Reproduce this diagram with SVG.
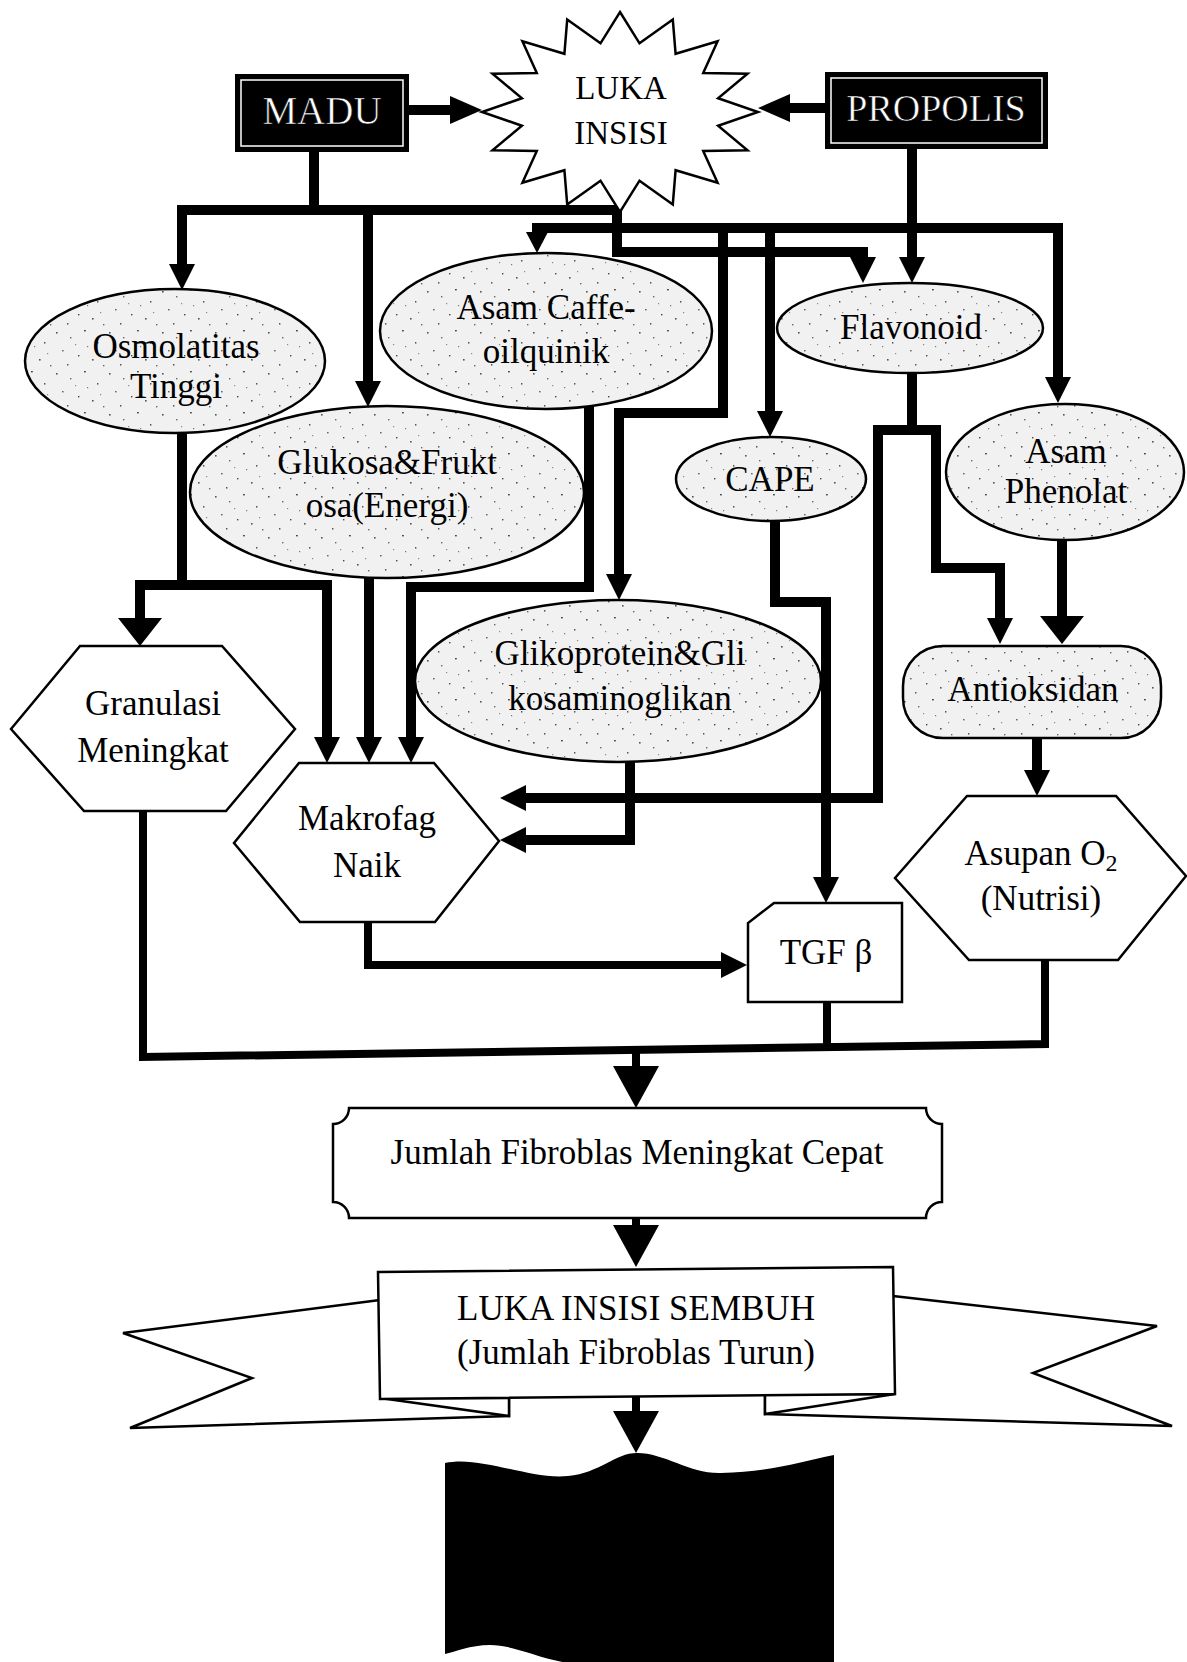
<svg xmlns="http://www.w3.org/2000/svg" width="1187" height="1662" viewBox="0 0 1187 1662">
<defs>
<style>
.t{font-family:"Liberation Serif","Times New Roman",serif;font-size:35px;fill:#000;text-anchor:middle}
.tw{font-family:"Liberation Serif","Times New Roman",serif;font-size:37px;fill:#fff;stroke:#000;stroke-width:0.6;text-anchor:middle}
.nd{fill:#fff;stroke:#000;stroke-width:2.5}
.st{fill:url(#stip);stroke:#000;stroke-width:2.5}
.c{fill:none;stroke:#000;stroke-width:10;stroke-linejoin:miter;stroke-linecap:square}
.c8{fill:none;stroke:#000;stroke-width:8;stroke-linejoin:miter;stroke-linecap:square}
</style>
<pattern id="stip" width="53" height="41" patternUnits="userSpaceOnUse">
<rect width="53" height="41" fill="#f1f1f1"/>
<rect x="3" y="4" width="1.6" height="1.6" fill="#555"/>
<rect x="17" y="9" width="1.4" height="1.4" fill="#666"/>
<rect x="31" y="2" width="1.8" height="1.4" fill="#444"/>
<rect x="44" y="14" width="1.4" height="1.6" fill="#555"/>
<rect x="9" y="22" width="1.6" height="1.4" fill="#666"/>
<rect x="25" y="27" width="1.4" height="1.4" fill="#444"/>
<rect x="39" y="31" width="1.6" height="1.6" fill="#555"/>
<rect x="50" y="37" width="1.4" height="1.4" fill="#666"/>
<rect x="14" y="36" width="1.4" height="1.6" fill="#555"/>
<rect x="34" y="18" width="1.2" height="1.2" fill="#777"/>
<rect x="22" y="16" width="1.2" height="1.2" fill="#888"/>
<rect x="47" y="25" width="1.2" height="1.2" fill="#888"/>
</pattern>
<marker id="a" markerUnits="userSpaceOnUse" markerWidth="28" markerHeight="28" refX="0" refY="13" orient="auto" overflow="visible"><path d="M0,0 L26,13 L0,26 z" fill="#000"/></marker>
<marker id="as" markerUnits="userSpaceOnUse" markerWidth="24" markerHeight="24" refX="0" refY="11" orient="auto" overflow="visible"><path d="M0,0 L21,11 L0,22 z" fill="#000"/></marker>
<marker id="aw" markerUnits="userSpaceOnUse" markerWidth="30" markerHeight="46" refX="0" refY="22" orient="auto" overflow="visible"><path d="M0,0 L28,22 L0,44 z" fill="#000"/></marker>
<marker id="ab" markerUnits="userSpaceOnUse" markerWidth="44" markerHeight="48" refX="0" refY="23" orient="auto" overflow="visible"><path d="M0,0 L42,23 L0,46 z" fill="#000"/></marker>
<marker id="ax" markerUnits="userSpaceOnUse" markerWidth="34" markerHeight="30" refX="0" refY="14" orient="auto" overflow="visible"><path d="M0,0 L32,14 L0,28 z" fill="#000"/></marker>
</defs>
<rect width="1187" height="1662" fill="#fff"/>

<g id="connectors">
<path class="c" d="M314,152 V210"/>
<path class="c" d="M182,210 H617"/>
<path class="c" d="M182,210 V264" marker-end="url(#a)"/>
<path class="c" d="M368,210 V381" marker-end="url(#a)"/>
<path class="c" d="M617,210 V252 H863 V257" marker-end="url(#a)"/>
<path class="c" d="M409,110 H450" marker-end="url(#ax)"/>
<path class="c" d="M825,108 H790" marker-end="url(#ax)"/>
<path class="c" d="M912,149 V257" marker-end="url(#a)"/>
<path class="c" d="M537,228 H1058"/>
<path class="c" d="M537,228 V232" marker-end="url(#as)"/>
<path class="c" d="M1058,228 V377" marker-end="url(#a)"/>
<path class="c" d="M723,228 V413 H619 V574" marker-end="url(#a)"/>
<path class="c" d="M770,228 V411" marker-end="url(#a)"/>
<path class="c" d="M182,433 V585"/>
<path class="c" d="M140,585 H327"/>
<path class="c" d="M140,585 V618" marker-end="url(#aw)"/>
<path class="c" d="M327,585 V737" marker-end="url(#a)"/>
<path class="c" d="M369,578 V737" marker-end="url(#a)"/>
<path class="c" d="M589,407 V587 H411 V737" marker-end="url(#a)"/>
<path class="c" d="M630,762 V840 H526" marker-end="url(#a)"/>
<path class="c" d="M912,373 V430"/>
<path class="c" d="M878,430 H936"/>
<path class="c" d="M878,430 V798 H526" marker-end="url(#a)"/>
<path class="c" d="M936,430 V568 H1000 V618" marker-end="url(#a)"/>
<path class="c" d="M1062,540 V616" marker-end="url(#aw)"/>
<path class="c" d="M775,522 V602 H826 V877" marker-end="url(#a)"/>
<path class="c" d="M1037,740 V770" marker-end="url(#a)"/>
<path class="c8" d="M368,923 V965 H721" marker-end="url(#a)"/>
<path class="c8" d="M143,811 V1057 L1045,1044 V960"/>
<path class="c8" d="M827,1002 V1046"/>
<path class="c8" d="M636,1052 V1066" marker-end="url(#ab)"/>
<path class="c8" d="M636,1218 V1225" marker-end="url(#ab)"/>
<path class="c8" d="M636,1400 V1411" marker-end="url(#ab)"/>
</g>

<g id="madu">
<rect x="235" y="74" width="174" height="78" fill="#000"/>
<rect x="241" y="80" width="162" height="66" fill="none" stroke="#fff" stroke-width="1.5"/>
<text class="tw" x="322" y="124" style="font-size:39px">MADU</text>
</g>

<g id="propolis">
<rect x="825" y="72" width="223" height="77" fill="#000"/>
<rect x="831" y="78" width="211" height="65" fill="none" stroke="#fff" stroke-width="1.5"/>
<text class="tw" x="936" y="121" style="font-size:38px">PROPOLIS</text>
</g>

<g id="luka-insisi">
<polygon class="nd" points="620,12 639.5,43.3 672.8,19.6 675.6,53.8 717.6,41.3 703.2,73.1 747.5,73.7 718.1,98.3 758,112 718.1,125.7 747.5,150.3 703.2,150.9 717.6,182.7 675.6,170.2 672.8,204.4 639.5,180.7 620,212 600.5,180.7 567.2,204.4 564.4,170.2 522.4,182.7 536.8,150.9 492.5,150.3 521.9,125.7 482,112 521.9,98.3 492.5,73.7 536.8,73.1 522.4,41.3 564.4,53.8 567.2,19.6 600.5,43.3"/>
<text class="t" x="621" y="99" style="font-size:33px">LUKA</text>
<text class="t" x="621" y="144" style="font-size:33px">INSISI</text>
</g>

<g id="osmolatitas">
<ellipse class="st" cx="175" cy="361" rx="150" ry="72"/>
<text class="t" x="176" y="358">Osmolatitas</text>
<text class="t" x="176" y="398">Tinggi</text>
</g>

<g id="glukosa">
<ellipse class="st" cx="387" cy="492" rx="197" ry="86"/>
<text class="t" x="387" y="474">Glukosa&amp;Frukt</text>
<text class="t" x="387" y="517">osa(Energi)</text>
</g>

<g id="asam-caffe">
<ellipse class="st" cx="546" cy="331" rx="166" ry="78"/>
<text class="t" x="546" y="319">Asam Caffe-</text>
<text class="t" x="546" y="363">oilquinik</text>
</g>

<g id="flavonoid">
<ellipse class="st" cx="910" cy="328" rx="133" ry="45"/>
<text class="t" x="911" y="339">Flavonoid</text>
</g>

<g id="cape">
<ellipse class="st" cx="771" cy="479" rx="95" ry="42"/>
<text class="t" x="770" y="491">CAPE</text>
</g>

<g id="asam-phenolat">
<ellipse class="st" cx="1065" cy="472" rx="119" ry="68"/>
<text class="t" x="1066" y="463">Asam</text>
<text class="t" x="1066" y="503">Phenolat</text>
</g>

<g id="glikoprotein">
<ellipse class="st" cx="618" cy="681" rx="203" ry="81"/>
<text class="t" x="620" y="665">Glikoprotein&amp;Gli</text>
<text class="t" x="620" y="710">kosaminoglikan</text>
</g>

<g id="antioksidan">
<rect class="st" x="903" y="646" width="258" height="92" rx="40" ry="40"/>
<text class="t" x="1033" y="701">Antioksidan</text>
</g>

<g id="granulasi">
<polygon class="nd" points="11,729 80,646 222,646 295,729 226,811 84,811"/>
<text class="t" x="153" y="715">Granulasi</text>
<text class="t" x="153" y="762">Meningkat</text>
</g>

<g id="makrofag">
<polygon class="nd" points="234,843 299,763 434,763 499,841 435,922 300,922"/>
<text class="t" x="367" y="830">Makrofag</text>
<text class="t" x="367" y="877">Naik</text>
</g>

<g id="asupan">
<polygon class="nd" points="895,878 967,796 1116,796 1186,876 1118,960 969,960"/>
<text class="t" x="1041" y="865">Asupan O<tspan style="font-size:24px" dy="6">2</tspan></text>
<text class="t" x="1041" y="910">(Nutrisi)</text>
</g>

<g id="tgf">
<polygon class="nd" points="774,903 902,903 902,1002 748,1002 748,923"/>
<text class="t" x="826" y="964">TGF β</text>
</g>

<g id="fibroblas-meningkat">
<path class="nd" d="M349,1108 L926,1108 A16,16 0 0 0 942,1124 L942,1202 A16,16 0 0 0 926,1218 L349,1218 A16,16 0 0 0 333,1202 L333,1124 A16,16 0 0 0 349,1108 Z"/>
<text class="t" x="637" y="1164">Jumlah Fibroblas Meningkat Cepat</text>
</g>

<g id="luka-sembuh">
<polygon class="nd" points="380,1300 123,1333 252,1378 130,1428 509,1416 509,1396"/>
<polygon class="nd" points="893,1296 1157,1326 1033,1373 1172,1426 765,1414 765,1394"/>
<polygon class="nd" points="380,1398 509,1398 509,1416"/>
<polygon class="nd" points="895,1394 765,1394 765,1414"/>
<polygon class="nd" points="378,1272 893,1267 895,1394 380,1399"/>
<text class="t" x="636" y="1320">LUKA INSISI SEMBUH</text>
<text class="t" x="636" y="1364">(Jumlah Fibroblas Turun)</text>
</g>

<g id="flag">
<path d="M445,1463 C480,1455 530,1480 568,1476 C600,1473 615,1453 637,1453 C665,1453 690,1474 721,1473 C770,1472 800,1462 834,1455 L834,1666 L600,1666 C550,1666 520,1645 490,1645 C470,1645 455,1652 445,1654 Z" fill="#000"/>
</g>
</svg>
